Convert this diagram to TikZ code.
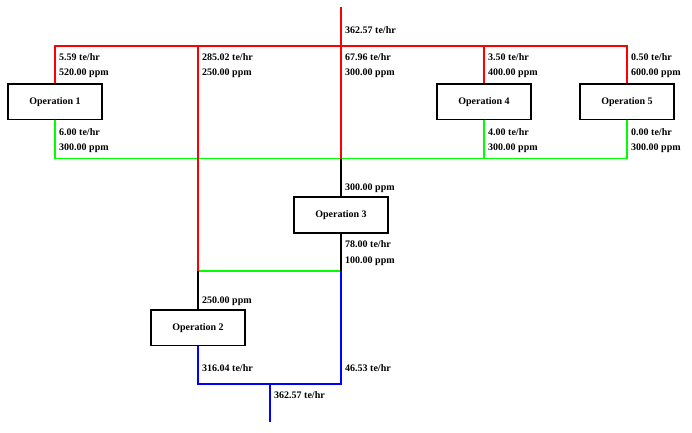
\documentclass[tikz,border=0pt]{standalone}
\usepackage{fontspec}
\setmainfont{Liberation Serif}
\definecolor{lred}{RGB}{255,0,0}
\definecolor{lgreen}{RGB}{0,255,0}
\definecolor{lblue}{RGB}{0,0,255}
\begin{document}
\begin{tikzpicture}[x=1pt,y=-1pt,
  op/.style={draw, line width=1.8pt, fill=white, minimum width=93.5pt, minimum height=35.5pt, inner sep=0pt, font=\bfseries\fontsize{10}{12}\selectfont},
  lbl/.style={anchor=west, inner sep=0pt, font=\bfseries\fontsize{10}{12}\selectfont},
  rl/.style={draw=lred, line width=1.8pt},
  gl/.style={draw=lgreen, line width=1.8pt},
  bl/.style={draw=lblue, line width=1.8pt},
  kl/.style={draw=black, line width=1.8pt}]
\useasboundingbox (0,0) rectangle (692,432);
% junction coordinates
\coordinate (top) at (341,7);
\coordinate (j1) at (341,46);
\coordinate (L1) at (55,46);
\coordinate (L2) at (198,46);
\coordinate (L4) at (484,46);
\coordinate (L5) at (627,46);
\coordinate (g1) at (55,158.5);
\coordinate (g3) at (341,158.5);
\coordinate (g4) at (484,158.5);
\coordinate (g5) at (627,158.5);
\coordinate (m2) at (198,271);
\coordinate (m3) at (341,271);
\coordinate (b2) at (198,384);
\coordinate (b3) at (341,384);
\coordinate (bm) at (270,384);
\coordinate (bot) at (270,422);
% operations
\node[op] (op1) at (55,101.8) {Operation 1};
\node[op] (op4) at (484,101.8) {Operation 4};
\node[op] (op5) at (627,101.8) {Operation 5};
\node[op] (op3) at (341,215) {Operation 3};
\node[op] (op2) at (198,327.7) {Operation 2};
% connectors
\draw[gl] (op1.south) -- (g1) -- (g5) -- (op5.south);
\draw[gl] (g4) -- (op4.south);
\draw[gl] (m2) -- (m3);
\draw[rl] (top) -- (g3);
\draw[rl] (op1.north) -- (L1) -- (L5) -- (op5.north);
\draw[rl] (L2) -- (m2);
\draw[rl] (L4) -- (op4.north);
\draw[kl] (g3) -- (op3.north);
\draw[kl] (op3.south) -- (m3);
\draw[kl] (m2) -- (op2.north);
\draw[bl] (m3) -- (b3) -- (b2) -- (op2.south);
\draw[bl] (bm) -- (bot);
% redraw boxes on top
\node[op] at (op1) {Operation 1};
\node[op] at (op4) {Operation 4};
\node[op] at (op5) {Operation 5};
\node[op] at (op3) {Operation 3};
\node[op] at (op2) {Operation 2};
% labels
\node[lbl] (t0) at (345,30) {362.57 te/hr};
\node[lbl] (a1) at (59,57) {5.59 te/hr};
\node[lbl] (a2) at (59,73.5) {520.00 ppm};
\node[lbl] (b1) at (202,57) {285.02 te/hr};
\node[lbl] (b2l) at (202,73.5) {250.00 ppm};
\node[lbl] (c1) at (345,57) {67.96 te/hr};
\node[lbl] (c2) at (345,73.5) {300.00 ppm};
\node[lbl] (d1) at (488,57) {3.50 te/hr};
\node[lbl] (d2) at (488,73.5) {400.00 ppm};
\node[lbl] (e1) at (631,57) {0.50 te/hr};
\node[lbl] (e2) at (631,73.5) {600.00 ppm};
\node[lbl] (f1) at (59,132) {6.00 te/hr};
\node[lbl] (f2) at (59,148.5) {300.00 ppm};
\node[lbl] (h1) at (488,132) {4.00 te/hr};
\node[lbl] (h2) at (488,148.5) {300.00 ppm};
\node[lbl] (i1) at (631,132) {0.00 te/hr};
\node[lbl] (i2) at (631,148.5) {300.00 ppm};
\node[lbl] (k1) at (345,188) {300.00 ppm};
\node[lbl] (k2) at (345,244.5) {78.00 te/hr};
\node[lbl] (k3) at (345,261) {100.00 ppm};
\node[lbl] (n1) at (202,301) {250.00 ppm};
\node[lbl] (n2) at (202,368) {316.04 te/hr};
\node[lbl] (n3) at (345,368) {46.53 te/hr};
\node[lbl] (n4) at (274,395) {362.57 te/hr};
\end{tikzpicture}
\end{document}
